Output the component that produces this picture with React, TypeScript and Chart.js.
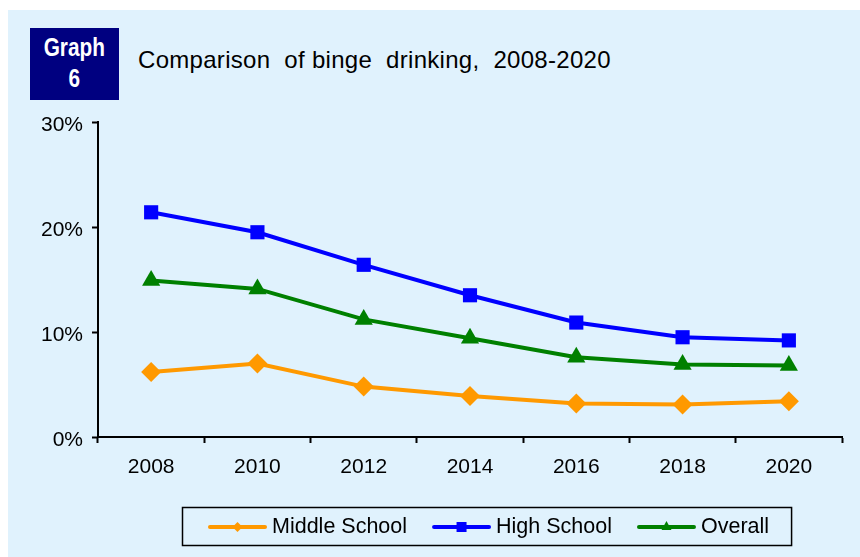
import React, { useEffect, useRef } from "react";
import { Chart, registerables } from "chart.js";

Chart.register(...registerables);

const years = ["2008", "2010", "2012", "2014", "2016", "2018", "2020"];
const middleSchool = [6.2, 7.0, 4.8, 3.9, 3.2, 3.1, 3.4];
const highSchool = [21.4, 19.5, 16.4, 13.5, 10.9, 9.5, 9.2];
const overall = [14.9, 14.1, 11.2, 9.4, 7.6, 6.9, 6.8];
const seriesNames = ["Middle School", "High School", "Overall"];
const seriesColors = ["#FF9900", "#0000FF", "#008000"];
const seriesPoints = ["rectRot", "rect", "triangle"];
const yTicks = [0, 10, 20, 30];
const titleText = "Comparison  of binge  drinking,  2008-2020";

const FONT = "'Liberation Sans', Arial, sans-serif";

function drawMarker(ctx: CanvasRenderingContext2D, style: string, x: number, y: number, r: number) {
  ctx.beginPath();
  if (style === "rect") {
    ctx.rect(x - r, y - r, 2 * r, 2 * r);
  } else if (style === "rectRot") {
    ctx.moveTo(x, y - r);
    ctx.lineTo(x + r, y);
    ctx.lineTo(x, y + r);
    ctx.lineTo(x - r, y);
    ctx.closePath();
  } else {
    ctx.moveTo(x, y - r * 1.2);
    ctx.lineTo(x + r, y + r * 0.6);
    ctx.lineTo(x - r, y + r * 0.6);
    ctx.closePath();
  }
  ctx.fill();
}

const boxLegend = {
  id: "boxLegend",
  afterDraw(chart: any) {
    const ctx: CanvasRenderingContext2D = chart.ctx;
    const boxLeft = 182;
    const boxTop = 507;
    const boxH = 38;
    const cy = boxTop + boxH / 2 + 1;
    ctx.save();
    ctx.font = `21.5px ${FONT}`;
    ctx.textBaseline = "middle";
    let x = boxLeft + 28;
    chart.data.datasets.forEach((ds: any, i: number) => {
      ctx.strokeStyle = ds.borderColor;
      ctx.fillStyle = ds.borderColor;
      ctx.lineWidth = 4;
      ctx.lineCap = "round";
      ctx.beginPath();
      ctx.moveTo(x, cy);
      ctx.lineTo(x + 55, cy);
      ctx.stroke();
      drawMarker(ctx, ds.pointStyle, x + 27.5, cy, 5);
      ctx.fillStyle = "#000";
      ctx.fillText(ds.label, x + 62, cy);
      const w = ctx.measureText(ds.label).width;
      x = x + 62 + w + (i < chart.data.datasets.length - 1 ? 27 : 0);
    });
    const boxRight = x + 22;
    ctx.strokeStyle = "#000";
    ctx.lineWidth = 1.5;
    ctx.strokeRect(boxLeft + 0.5, boxTop + 0.5, boxRight - boxLeft, boxH);
    ctx.restore();
  },
};

export default function App() {
  const canvasRef = useRef<HTMLCanvasElement | null>(null);

  useEffect(() => {
    if (!canvasRef.current) return;
    const data = [middleSchool, highSchool, overall];
    const chart = new Chart(canvasRef.current, {
      type: "line",
      data: {
        labels: years,
        datasets: data.map((d, i) => ({
          label: seriesNames[i],
          data: d,
          borderColor: seriesColors[i],
          backgroundColor: seriesColors[i],
          pointBackgroundColor: seriesColors[i],
          pointBorderColor: seriesColors[i],
          pointStyle: seriesPoints[i] as any,
          pointRadius: i === 2 ? 10.5 : 10,
          pointBorderWidth: 0,
          borderWidth: 4,
          tension: 0,
          fill: false,
        })),
      },
      options: {
        animation: false,
        responsive: false,
        maintainAspectRatio: false,
        layout: { padding: { top: 122, right: 18, left: 0, bottom: 0 } },
        plugins: {
          legend: { display: false },
          title: { display: false },
          tooltip: { enabled: false },
        },
        scales: {
          x: {
            type: "category",
            offset: true,
            afterFit: (scale: any) => {
              scale.height = 120;
            },
            grid: {
              offset: true,
              drawOnChartArea: false,
              drawTicks: true,
              tickLength: 6,
              tickWidth: 2,
              tickColor: "#000",
              color: "#000",
            },
            border: { display: true, color: "#000", width: 2 },
            ticks: {
              color: "#000",
              font: { family: FONT, size: 21 },
              padding: 12,
              maxRotation: 0,
            },
          },
          y: {
            min: 0,
            max: 30,
            afterFit: (scale: any) => {
              scale.width = 98;
            },
            afterBuildTicks: (scale: any) => {
              scale.ticks = yTicks.map((v) => ({ value: v }));
            },
            grid: {
              drawOnChartArea: false,
              drawTicks: true,
              tickLength: 6,
              tickWidth: 2,
              tickColor: "#000",
              color: "#000",
            },
            border: { display: true, color: "#000", width: 2 },
            ticks: {
              color: "#000",
              font: { family: FONT, size: 21 },
              padding: 9,
              labelOffset: 3,
              callback: (v: any) => `${v}%`,
            },
          },
        },
      },
      plugins: [boxLegend],
    });
    return () => chart.destroy();
  }, []);

  return (
    <div
      style={{
        position: "absolute",
        left: 0,
        top: 0,
        width: 860,
        height: 557,
        background: "#fff",
        overflow: "hidden",
      }}
    >
      <div
        style={{
          position: "absolute",
          left: 8,
          top: 10,
          right: 0,
          bottom: 0,
          background: "#E0F2FD",
        }}
      />
      <div
        style={{
          position: "absolute",
          left: 30,
          top: 28,
          width: 89,
          height: 72,
          background: "#000080",
          color: "#fff",
          textAlign: "center",
          fontFamily: FONT,
          fontWeight: "bold",
          fontSize: 26,
          lineHeight: "31px",
          paddingTop: 4,
          boxSizing: "border-box",
        }}
      >
        <span style={{ display: "inline-block", transform: "scaleX(0.8)" }}>Graph</span>
        <br />
        <span style={{ display: "inline-block", transform: "scaleX(0.8)" }}>6</span>
      </div>
      <div
        style={{
          position: "absolute",
          left: 138,
          top: 46,
          fontFamily: FONT,
          fontSize: 24,
          color: "#000",
          whiteSpace: "pre",
          letterSpacing: 0.3,
        }}
      >
        {titleText}
      </div>
      <canvas
        ref={canvasRef}
        width={860}
        height={557}
        style={{ position: "absolute", left: 0, top: 0, width: 860, height: 557 }}
      />
    </div>
  );
}
